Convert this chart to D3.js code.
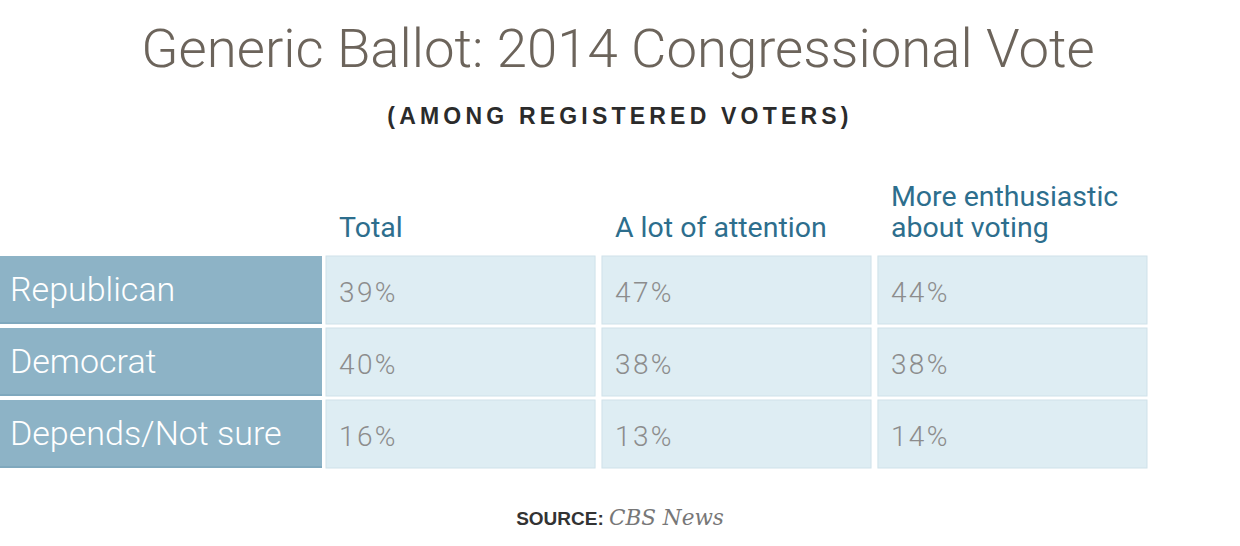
<!DOCTYPE html>
<html>
<head>
<meta charset="utf-8">
<script src="https://cdn.jsdelivr.net/npm/d3@7"></script>
<style>
  html, body { margin: 0; padding: 0; background: #fff; }
  svg { display: block; }
</style>
</head>
<body>
<svg id="chart" width="1240" height="546"></svg>
<script>
const title = "Generic Ballot: 2014 Congressional Vote";
const subtitle = "(AMONG REGISTERED VOTERS)";
const columns = [["Total"], ["A lot of attention"], ["More enthusiastic", "about voting"]];
const rowLabels = ["Republican", "Democrat", "Depends/Not sure"];
const totalVals = [39, 40, 16];
const attentionVals = [47, 38, 13];
const enthusiasticVals = [44, 38, 14];
const sourceLabel = "SOURCE:";
const sourceName = "CBS News";

const series = [totalVals, attentionVals, enthusiasticVals];

const svg = d3.select("#chart");

svg.append("text")
  .attr("x", 618).attr("y", 67)
  .attr("text-anchor", "middle")
  .style("font-family", "Roboto, 'Open Sans', sans-serif")
  .style("font-weight", 300)
  .style("font-size", "54.5px")
  .style("fill", "#6c645b")
  .text(title);

svg.append("text")
  .attr("x", 620).attr("y", 124)
  .attr("text-anchor", "middle")
  .style("font-family", "'Liberation Sans', Arial, sans-serif")
  .style("font-weight", 700)
  .style("font-size", "23px")
  .style("letter-spacing", "4.2px")
  .style("fill", "#2b2b2b")
  .text(subtitle);

const y = d3.scaleBand()
  .domain(d3.range(rowLabels.length))
  .range([256, 468])
  .paddingInner(4 / 72)
  .paddingOuter(0);

const x = d3.scaleBand()
  .domain(d3.range(columns.length))
  .range([326, 1147])
  .paddingInner(0.025)
  .paddingOuter(0);

const labelX = d3.scaleLinear().domain([0, 1]).range([0, 322]);

// headers
const hdr = svg.append("g");
columns.forEach((lines, j) => {
  const t = hdr.append("text")
    .attr("x", x(j) + 13)
    .attr("y", 237 - (lines.length - 1) * 31)
    .style("font-family", "Roboto, sans-serif")
    .style("font-size", "28.5px")
    .style("fill", "#2d6e8d");
  lines.forEach((ln, k) => {
    t.append("tspan").attr("x", x(j) + 13).attr("dy", k === 0 ? 0 : 31).text(ln);
  });
});

// row label cells
const rows = svg.append("g").selectAll("g").data(rowLabels).join("g");
rows.append("rect")
  .attr("x", labelX(0)).attr("y", (d, i) => y(i))
  .attr("width", labelX(1) - labelX(0)).attr("height", y.bandwidth())
  .attr("fill", "#8db3c6");
rows.append("rect")
  .attr("x", labelX(0)).attr("y", (d, i) => y(i) + y.bandwidth() - 2)
  .attr("width", labelX(1) - labelX(0)).attr("height", 2)
  .attr("fill", "#7fa8bd");
rows.append("text")
  .attr("x", labelX(0) + 10)
  .attr("y", (d, i) => y(i) + y.bandwidth() / 2 + 11)
  .style("font-family", "Roboto, sans-serif")
  .style("font-weight", 300)
  .style("font-size", "34px")
  .style("fill", "#ffffff")
  .text(d => d);

// value cells
const cells = [];
series.forEach((vals, j) => vals.forEach((v, i) => cells.push({ i, j, v })));
const cg = svg.append("g").selectAll("g").data(cells).join("g");
cg.append("rect")
  .attr("x", d => x(d.j)).attr("y", d => y(d.i))
  .attr("width", x.bandwidth()).attr("height", y.bandwidth())
  .attr("fill", "#deedf3")
  .attr("stroke", "#cfe1e9").attr("stroke-width", 1);
cg.append("text")
  .attr("x", d => x(d.j) + 13)
  .attr("y", d => y(d.i) + y.bandwidth() / 2 + 12)
  .style("font-family", "Roboto, sans-serif")
  .style("font-weight", 300)
  .style("font-size", "28px")
  .style("letter-spacing", "2.4px")
  .style("fill", "#8c8c8c")
  .text(d => d.v + "%");

// source
const src = svg.append("text")
  .attr("x", 620).attr("y", 525)
  .attr("text-anchor", "middle");
src.append("tspan")
  .style("font-family", "'Liberation Sans', Arial, sans-serif")
  .style("font-weight", 700)
  .style("font-size", "19px")
  .style("fill", "#333")
  .text(sourceLabel + " ");
src.append("tspan")
  .style("font-family", "'DejaVu Serif', 'Liberation Serif', serif")
  .style("font-style", "italic")
  .style("font-size", "21.5px")
  .style("fill", "#777")
  .text(sourceName);
</script>
</body>
</html>
